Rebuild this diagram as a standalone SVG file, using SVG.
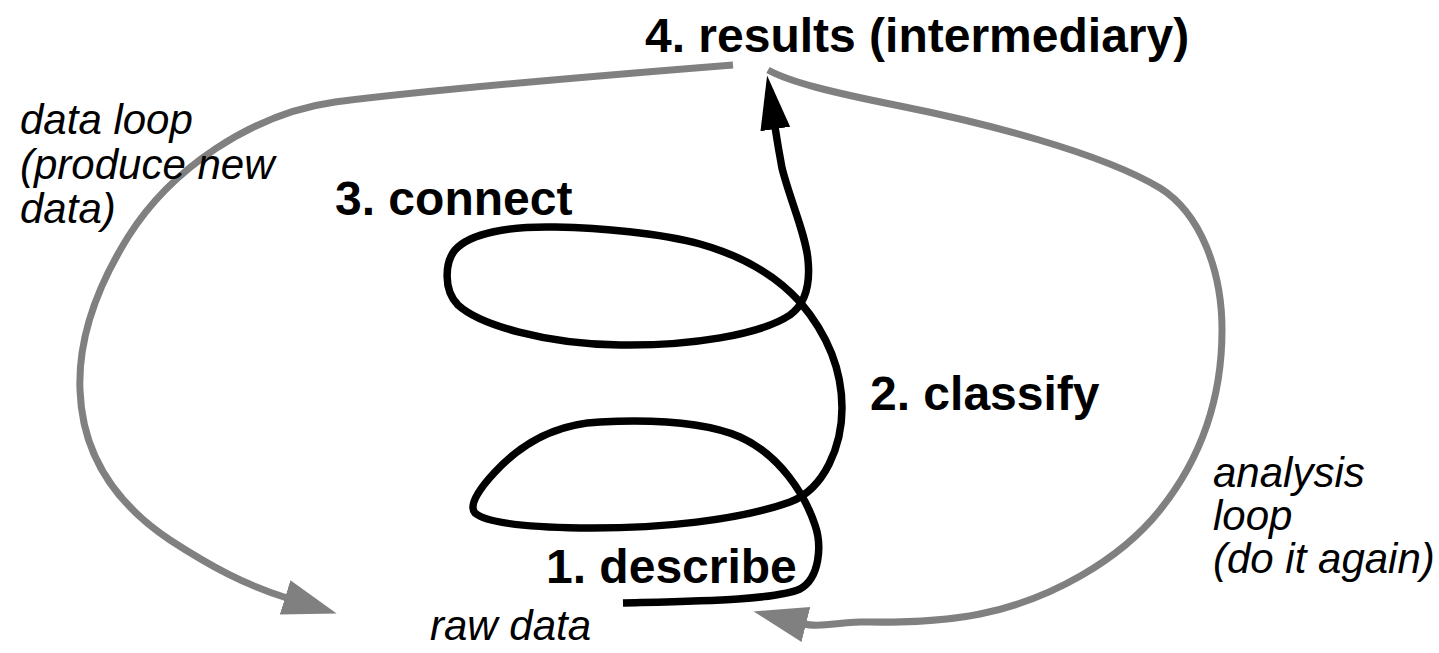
<svg xmlns="http://www.w3.org/2000/svg" width="1439" height="653" viewBox="0 0 1439 653">
  <style>
    .bold { font-family: "Liberation Sans", Arial, sans-serif; font-weight: bold; font-size: 48px; fill: #000; }
    .ital { font-family: "Liberation Sans", Arial, sans-serif; font-style: italic; font-size: 42px; fill: #000; }
    .grey { fill: none; stroke: #808080; stroke-width: 7; }
    .black { fill: none; stroke: #000; stroke-width: 7.5; }
  </style>
  <defs>
    <marker id="ah-black" markerUnits="userSpaceOnUse" markerWidth="56" markerHeight="34" viewBox="0 0 56 34" refX="2" refY="17" orient="auto">
      <path d="M0,2 L54,17 L0,32 z" fill="#000"/>
    </marker>
    <marker id="ah-grey" markerUnits="userSpaceOnUse" markerWidth="56" markerHeight="38" viewBox="0 0 56 38" refX="2" refY="19" orient="auto">
      <path d="M0,1 L54,19 L0,37 z" fill="#808080"/>
    </marker>
  </defs>
  <rect width="1439" height="653" fill="#fff"/>

  <g id="connectors">
    <path id="data-loop" class="grey" marker-end="url(#ah-grey)"
      d="M733,65 C620,74 430,90 335,102 C250,114 170,170 128,237 C95,290 78,340 80,390 C82,450 110,500 170,540 C210,566 245,585 287,598"/>
    <path id="analysis-loop" class="grey" marker-end="url(#ah-grey)"
      d="M768,70 C790,82 830,92 900,106 C980,122 1100,152 1160,188 C1200,213 1222,270 1222,330 C1222,400 1200,460 1160,510 C1120,560 1050,600 980,614 C930,624 880,622 860,622 C840,622 820,628 804,624"/>
    <path id="spiral" class="black" marker-end="url(#ah-black)"
      d="M623,603 C700,601 775,600 800,589 C820,578 822,545 815,525 C805,495 780,455 740,437 C700,420 640,420 600,422 C555,424 520,445 495,472 C480,488 468,505 475,513 C485,522 520,527 580,528 C660,529 740,520 790,502 C825,489 842,445 842,408 C842,370 828,335 800,302 C780,280 750,258 700,244 C660,233 600,228 555,227 C510,226 470,233 455,250 C445,262 443,290 458,305 C480,325 545,344 620,345 C690,346 760,335 790,315 C808,302 810,280 808,260 C806,235 790,200 782,168 C779,152 777,140 775,127"/>
  </g>

  <g id="results">
    <text class="bold" x="645" y="52">4. results (intermediary)</text>
  </g>
  <g id="connect">
    <text class="bold" x="335" y="215">3. connect</text>
  </g>
  <g id="classify">
    <text class="bold" x="870" y="410">2. classify</text>
  </g>
  <g id="describe">
    <text class="bold" x="546" y="583">1. describe</text>
  </g>
  <g id="raw-data">
    <text class="ital" x="430" y="640">raw data</text>
  </g>
  <g id="data-loop-label">
    <text class="ital" x="20" y="134">data loop</text>
    <text class="ital" x="20" y="179">(produce new</text>
    <text class="ital" x="20" y="223">data)</text>
  </g>
  <g id="analysis-loop-label">
    <text class="ital" x="1213" y="487">analysis</text>
    <text class="ital" x="1213" y="530">loop</text>
    <text class="ital" x="1213" y="573">(do it again)</text>
  </g>
</svg>
